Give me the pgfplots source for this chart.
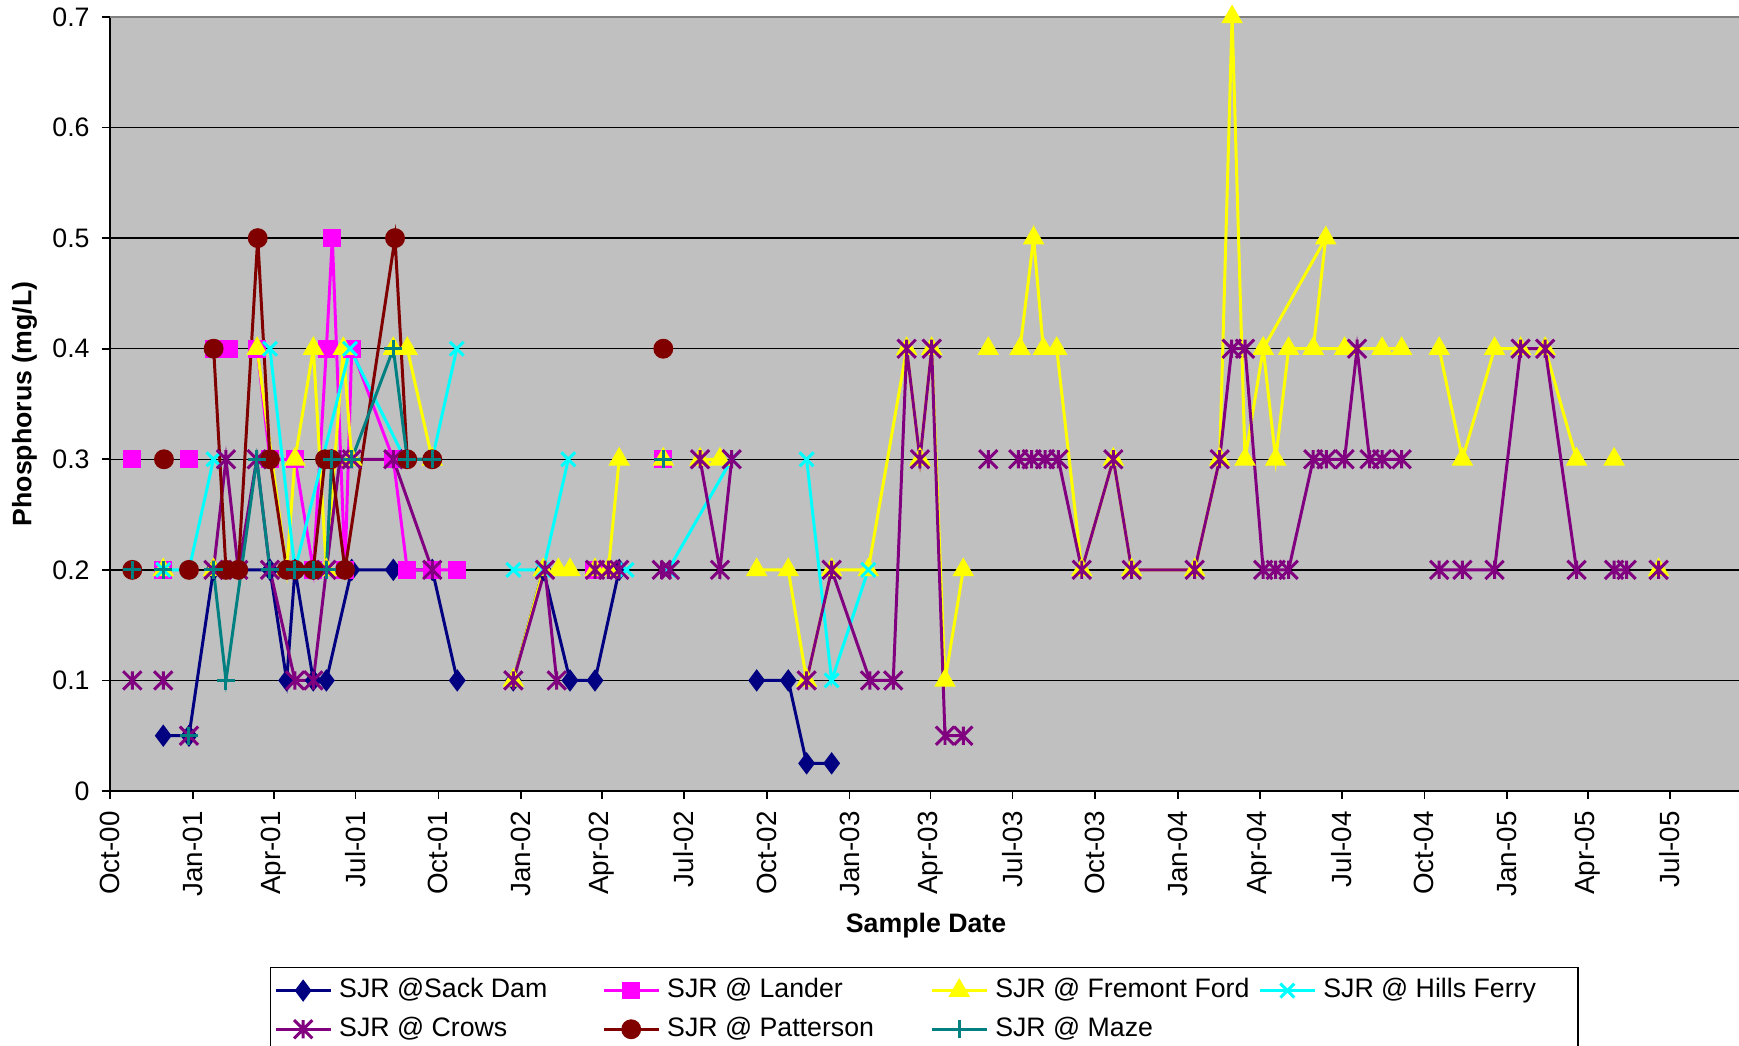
\documentclass[border=0pt]{standalone}
\usepackage{fontspec}
\setmainfont{Liberation Sans}
\usepackage{pgfplots}
\pgfplotsset{compat=1.18}
\definecolor{plotbg}{RGB}{192,192,192}
\definecolor{bordergray}{RGB}{128,128,128}
\definecolor{cnavy}{RGB}{0,0,128}
\definecolor{cmag}{RGB}{255,0,255}
\definecolor{cyel}{RGB}{255,255,0}
\definecolor{ccyan}{RGB}{0,255,255}
\definecolor{cpurp}{RGB}{128,0,128}
\definecolor{cmaroon}{RGB}{128,0,0}
\definecolor{cteal}{RGB}{0,128,128}
\pgfdeclareplotmark{xstar}{%
  \pgfpathmoveto{\pgfqpoint{0pt}{\pgfplotmarksize}}%
  \pgfpathlineto{\pgfqpoint{0pt}{-\pgfplotmarksize}}%
  \pgfpathmoveto{\pgfqpoint{-\pgfplotmarksize}{-\pgfplotmarksize}}%
  \pgfpathlineto{\pgfqpoint{\pgfplotmarksize}{\pgfplotmarksize}}%
  \pgfpathmoveto{\pgfqpoint{-\pgfplotmarksize}{\pgfplotmarksize}}%
  \pgfpathlineto{\pgfqpoint{\pgfplotmarksize}{-\pgfplotmarksize}}%
  \pgfusepathqstroke}
\newcommand{\lfont}{\fontsize{7.6}{9}\selectfont}
\begin{document}
\begin{tikzpicture}
\begin{axis}[
  at={(1.10cm,2.54cm)}, anchor=south west,
  scale only axis, width=16.32cm, height=7.74cm,
  xmin=0, xmax=1814, ymin=0, ymax=0.7,
  axis background/.style={fill=plotbg},
  axis x line*=bottom, axis y line*=left,
  axis line style={black, line width=0.6pt},
  tick align=outside, major tick length=0.08cm,
  tick style={black, line width=0.5pt},
  xtick={0,92,182,273,365,457,547,638,730,822,912,1003,1095,1187,1278,1369,1461,1553,1643,1734},
  xticklabels={Oct-00,Jan-01,Apr-01,Jul-01,Oct-01,Jan-02,Apr-02,Jul-02,Oct-02,Jan-03,Apr-03,Jul-03,Oct-03,Jan-04,Apr-04,Jul-04,Oct-04,Jan-05,Apr-05,Jul-05},
  ytick={0,0.1,0.2,0.3,0.4,0.5,0.6,0.7},
  yticklabels={0,0.1,0.2,0.3,0.4,0.5,0.6,0.7},
  ymajorgrids, major grid style={black, line width=0.4pt},
  xticklabel style={rotate=90, anchor=east, font=\fontsize{7.9}{9}\selectfont},
  yticklabel style={font=\lfont},
  xlabel={\textbf{Sample Date}}, ylabel={\textbf{Phosphorus (mg/L)}},
  xlabel style={at={(axis description cs:0.5,-0.1735)}, anchor=center, font=\lfont},
  ylabel style={at={(axis description cs:-0.0524,0.5)}, anchor=center, font=\lfont},
  clip=false,
  unbounded coords=jump,
  legend columns=4,
  legend cell align=left,
  legend style={at={(0.098,-0.2274)}, anchor=north west, draw=black, fill=white,
    font=\lfont, inner xsep=1pt, inner ysep=1pt, row sep=0pt,
    /tikz/every even column/.append style={column sep=0.12cm}},
  legend image code/.code={\draw[mark repeat=2,mark phase=2] plot coordinates {(0cm,0cm) (0.275cm,0cm) (0.55cm,0cm)};},
  every axis plot/.append style={line width=0.85pt},
]
\draw[bordergray, line width=0.8pt] (rel axis cs:0,1) -- (rel axis cs:1,1);

% SJR @Sack Dam
\addplot[color=cnavy, mark=diamond*, mark size=2.5pt, mark options={solid, fill=cnavy, draw=cnavy}] table {
x y
59.2 0.05
87.8 0.05
115 0.2
177.8 0.2
196.4 0.1
205.6 0.2
226.0 0.1
240.5 0.1
268.7 0.2
314.9 0.2
358.2 0.2
386.0 0.1
390 nan
448.3 0.1
481.6 0.2
511.3 0.1
539.1 0.1
566 0.2
570 nan
718.8 0.1
753.9 0.1
774.3 0.025
802.1 0.025
};
\addlegendentry{\makebox[2.44cm][l]{SJR @Sack Dam}}

% SJR @ Lander
\addplot[color=cmag, mark=square*, mark size=2.1pt, mark options={solid, fill=cmag, draw=cmag}] table {
x y
24.8 0.3
30 nan
59.2 0.2
60 nan
87.8 0.3
90 nan
115.2 0.4
132.3 0.4
140 nan
163.5 0.4
177.8 0.3
205.6 0.3
226.0 0.2
240.5 0.4
247.1 0.5
261.2 0.2
268.7 0.4
314.9 0.3
330.4 0.2
358.2 0.2
386.0 0.2
390 nan
538 0.2
540 nan
615.0 0.3
};
\addlegendentry{\makebox[2.44cm][l]{SJR @ Lander}}

% SJR @ Fremont Ford
\addplot[color=cyel, mark=triangle*, mark size=2.7pt, mark options={solid, fill=cyel, draw=cyel}] table {
x y
59.2 0.2
60 nan
115 0.2
120 nan
163.5 0.4
196.4 0.2
205.6 0.3
226.0 0.4
240.5 0.2
259.3 0.4
268.7 0.3
270 nan
314.9 0.4
330.4 0.4
358.2 0.3
360 nan
448.3 0.1
481.6 0.2
498.3 0.2
511.3 0.2
520 nan
539.1 0.2
553.9 0.2
566 0.3
570 nan
615.0 0.3
620 nan
655.8 0.3
678.0 0.3
680 nan
718.8 0.2
753.9 0.2
774.3 0.1
802.1 0.2
842.8 0.2
885.5 0.4
900.3 0.3
913.3 0.4
928.1 0.1
948.4 0.2
950 nan
976.2 0.4
980 nan
1011.5 0.4
1026.6 0.5
1037.4 0.4
1052.3 0.4
1080.1 0.2
1115.2 0.3
1135.6 0.2
1205.6 0.2
1233.4 0.3
1247.2 0.7
1261.6 0.3
1281.8 0.4
1295.7 0.3
1310 0.4
1337.4 0.4
1351.3 0.5
1281.8 0.4
1282 nan
1337.4 0.4
1372.2 0.4
1413.9 0.4
1435.7 0.4
1440 nan
1477.4 0.4
1503.2 0.3
1538.9 0.4
1567.9 0.4
1595.2 0.4
1630.1 0.3
1640 nan
1671.8 0.3
1680 nan
1721.3 0.2
};
\addlegendentry{\makebox[2.44cm][l]{SJR @ Fremont Ford}}

% SJR @ Hills Ferry
\addplot[color=ccyan, mark=x, mark size=2.8pt, mark options={solid}] table {
x y
59.2 0.2
87.8 0.2
115 0.3
120 nan
177.8 0.4
205.6 0.2
266.8 0.4
327.9 0.3
358.2 0.3
385.4 0.4
390 nan
448.3 0.2
481.6 0.2
509.4 0.3
520 nan
574.3 0.2
580 nan
620.5 0.2
691.0 0.3
700 nan
774.3 0.3
802.1 0.1
842.8 0.2
};
\addlegendentry{\makebox[2.44cm][l]{SJR @ Hills Ferry}}

% SJR @ Crows
\addplot[color=cpurp, mark=xstar, mark size=2.6pt, mark options={solid}] table {
x y
24.8 0.1
30 nan
59.2 0.1
60 nan
87.8 0.05
90 nan
115 0.2
128.9 0.3
142.6 0.2
163.1 0.3
177.8 0.2
205.6 0.1
226.0 0.1
240.5 0.2
255.6 0.3
268.7 0.3
314.9 0.3
358.2 0.2
360 nan
448.3 0.1
483.5 0.2
496.5 0.1
500 nan
539.1 0.2
553.9 0.2
566 0.2
570 nan
613.2 0.2
622.4 0.2
630 nan
655.8 0.3
678.0 0.2
691.0 0.3
700 nan
774.3 0.1
802.1 0.2
844.7 0.1
870.6 0.1
885.5 0.4
900.3 0.3
913.3 0.4
928.1 0.05
948.4 0.05
950 nan
976.2 0.3
980 nan
1009.6 0.3
1024.5 0.3
1039.3 0.3
1054.1 0.3
1080.1 0.2
1115.2 0.3
1135.6 0.2
1205.6 0.2
1233.4 0.3
1246.8 0.4
1261.6 0.4
1281.8 0.2
1295.7 0.2
1310 0.2
1337.4 0.3
1352.1 0.3
1372.2 0.3
1386.1 0.4
1400.0 0.3
1413.9 0.3
1435.7 0.3
1440 nan
1477.4 0.2
1503.2 0.2
1538.9 0.2
1567.9 0.4
1595.2 0.4
1630.1 0.2
1640 nan
1671.8 0.2
1685.7 0.2
1690 nan
1721.3 0.2
};
\addlegendentry{\makebox[2.44cm][l]{SJR @ Crows}}

% SJR @ Patterson
\addplot[color=cmaroon, mark=*, mark size=2.4pt, mark options={solid, fill=cmaroon, draw=cmaroon}] table {
x y
24.8 0.2
30 nan
60.0 0.3
62 nan
87.8 0.2
90 nan
115.2 0.4
128.9 0.2
142.6 0.2
164.2 0.5
177.8 0.3
196.4 0.2
205.6 0.2
226.0 0.2
239.0 0.3
245.6 0.3
261.2 0.2
316.8 0.5
330.4 0.3
358.2 0.3
360 nan
615.0 0.4
};
\addlegendentry{\makebox[2.44cm][l]{SJR @ Patterson}}

% SJR @ Maze
\addplot[color=cteal, mark=+, mark size=2.6pt, mark options={solid}] table {
x y
24.8 0.2
30 nan
59.2 0.2
60 nan
87.8 0.05
90 nan
115 0.2
128.9 0.1
163.1 0.3
177.8 0.2
205.6 0.2
226.0 0.2
240.5 0.2
246.4 0.3
268.7 0.3
314.9 0.4
330.4 0.3
358.2 0.3
360 nan
615.0 0.3
};
\addlegendentry{\makebox[2.44cm][l]{SJR @ Maze}}
\end{axis}
\pgfresetboundingbox
\path[use as bounding box] (0,0) rectangle (17.39cm,10.45cm);
\end{tikzpicture}
\end{document}
